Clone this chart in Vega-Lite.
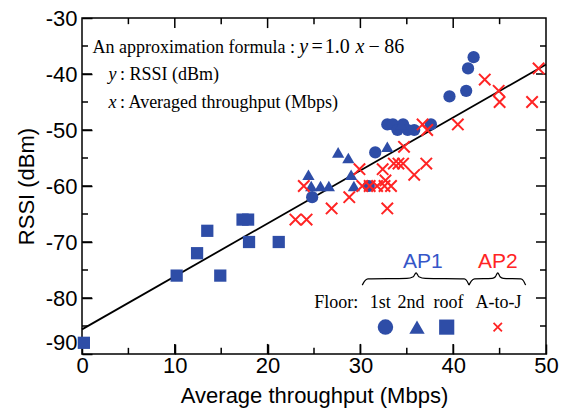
{
  "$schema": "https://vega.github.io/schema/vega-lite/v6.json",
  "width": 464,
  "height": 336,
  "autosize": {"type": "none"},
  "padding": {"left": 82, "top": 18, "right": 20, "bottom": 60},
  "background": "white",
  "config": {
    "view": {"stroke": "black", "strokeWidth": 1.5}
  },
  "datasets": {
    "points": [
      {"x": 0.2, "y": -88, "floor": "roof"},
      {"x": 10.2, "y": -76, "floor": "roof"},
      {"x": 12.4, "y": -72, "floor": "roof"},
      {"x": 13.5, "y": -68, "floor": "roof"},
      {"x": 14.9, "y": -76, "floor": "roof"},
      {"x": 17.3, "y": -66, "floor": "roof"},
      {"x": 17.9, "y": -66, "floor": "roof"},
      {"x": 18.0, "y": -70, "floor": "roof"},
      {"x": 21.2, "y": -70, "floor": "roof"},
      {"x": 24.8, "y": -62, "floor": "1st"},
      {"x": 30.9, "y": -60, "floor": "1st"},
      {"x": 31.6, "y": -54, "floor": "1st"},
      {"x": 32.9, "y": -49, "floor": "1st"},
      {"x": 33.5, "y": -49, "floor": "1st"},
      {"x": 34.0, "y": -50, "floor": "1st"},
      {"x": 34.6, "y": -49, "floor": "1st"},
      {"x": 35.1, "y": -50, "floor": "1st"},
      {"x": 35.8, "y": -50, "floor": "1st"},
      {"x": 37.6, "y": -49, "floor": "1st"},
      {"x": 39.6, "y": -44, "floor": "1st"},
      {"x": 41.4, "y": -43, "floor": "1st"},
      {"x": 41.6, "y": -39, "floor": "1st"},
      {"x": 42.2, "y": -37, "floor": "1st"},
      {"x": 24.4, "y": -58, "floor": "2nd"},
      {"x": 24.7, "y": -60, "floor": "2nd"},
      {"x": 25.7, "y": -60, "floor": "2nd"},
      {"x": 26.6, "y": -60, "floor": "2nd"},
      {"x": 27.6, "y": -54, "floor": "2nd"},
      {"x": 28.7, "y": -55, "floor": "2nd"},
      {"x": 29.0, "y": -58, "floor": "2nd"},
      {"x": 29.3, "y": -60, "floor": "2nd"},
      {"x": 32.9, "y": -53, "floor": "2nd"},
      {"x": 34.4, "y": -49, "floor": "2nd"},
      {"x": 23.0, "y": -66, "floor": "A-to-J"},
      {"x": 24.2, "y": -66, "floor": "A-to-J"},
      {"x": 23.9, "y": -60, "floor": "A-to-J"},
      {"x": 26.9, "y": -64, "floor": "A-to-J"},
      {"x": 28.8, "y": -62, "floor": "A-to-J"},
      {"x": 29.9, "y": -57, "floor": "A-to-J"},
      {"x": 30.2, "y": -60, "floor": "A-to-J"},
      {"x": 31.0, "y": -60, "floor": "A-to-J"},
      {"x": 31.8, "y": -60, "floor": "A-to-J"},
      {"x": 32.6, "y": -60, "floor": "A-to-J"},
      {"x": 33.3, "y": -60, "floor": "A-to-J"},
      {"x": 32.4, "y": -57, "floor": "A-to-J"},
      {"x": 32.7, "y": -59, "floor": "A-to-J"},
      {"x": 32.9, "y": -64, "floor": "A-to-J"},
      {"x": 33.6, "y": -56, "floor": "A-to-J"},
      {"x": 34.1, "y": -56, "floor": "A-to-J"},
      {"x": 34.6, "y": -56, "floor": "A-to-J"},
      {"x": 34.7, "y": -53, "floor": "A-to-J"},
      {"x": 35.8, "y": -58, "floor": "A-to-J"},
      {"x": 37.1, "y": -56, "floor": "A-to-J"},
      {"x": 36.7, "y": -49, "floor": "A-to-J"},
      {"x": 37.2, "y": -50, "floor": "A-to-J"},
      {"x": 40.5, "y": -49, "floor": "A-to-J"},
      {"x": 43.4, "y": -41, "floor": "A-to-J"},
      {"x": 44.9, "y": -43, "floor": "A-to-J"},
      {"x": 45.0, "y": -45, "floor": "A-to-J"},
      {"x": 48.5, "y": -45, "floor": "A-to-J"},
      {"x": 49.2, "y": -39, "floor": "A-to-J"}
    ],
    "fit": [
      {"x": 0, "y": -85.6},
      {"x": 50, "y": -38.3}
    ],
    "xticks": [
      {"v": 5, "kind": "minor"}, {"v": 10, "kind": "major"}, {"v": 15, "kind": "minor"}, {"v": 20, "kind": "major"},
      {"v": 25, "kind": "minor"}, {"v": 30, "kind": "major"}, {"v": 35, "kind": "minor"}, {"v": 40, "kind": "major"}, {"v": 45, "kind": "minor"}
    ],
    "yticks": [
      {"v": -85, "kind": "minor"}, {"v": -80, "kind": "major"}, {"v": -75, "kind": "minor"}, {"v": -70, "kind": "major"},
      {"v": -65, "kind": "minor"}, {"v": -60, "kind": "major"}, {"v": -55, "kind": "minor"}, {"v": -50, "kind": "major"},
      {"v": -45, "kind": "minor"}, {"v": -40, "kind": "major"}, {"v": -35, "kind": "minor"}
    ],
    "legendSymbols": [
      {"x": 32.7, "y": -85.2, "floor": "1st"},
      {"x": 36.1, "y": -85.2, "floor": "2nd"},
      {"x": 39.3, "y": -85.2, "floor": "roof"},
      {"x": 44.8, "y": -85.2, "floor": "A-to-J"}
    ],
    "braces": [
      {"x": 30.2, "y": -77.7, "part": "AP1"},
      {"x": 30.45, "y": -77.0, "part": "AP1"},
      {"x": 30.8, "y": -76.6, "part": "AP1"},
      {"x": 35.0, "y": -76.5, "part": "AP1"},
      {"x": 35.7, "y": -76.2, "part": "AP1"},
      {"x": 36.0, "y": -75.5, "part": "AP1"},
      {"x": 36.3, "y": -76.2, "part": "AP1"},
      {"x": 37.0, "y": -76.5, "part": "AP1"},
      {"x": 41.2, "y": -76.6, "part": "AP1"},
      {"x": 41.5, "y": -77.0, "part": "AP1"},
      {"x": 41.7, "y": -77.7, "part": "AP1"},
      {"x": 41.7, "y": -77.7, "part": "AP2"},
      {"x": 41.95, "y": -77.0, "part": "AP2"},
      {"x": 42.3, "y": -76.6, "part": "AP2"},
      {"x": 44.2, "y": -76.5, "part": "AP2"},
      {"x": 44.55, "y": -76.2, "part": "AP2"},
      {"x": 44.8, "y": -75.5, "part": "AP2"},
      {"x": 45.05, "y": -76.2, "part": "AP2"},
      {"x": 45.4, "y": -76.5, "part": "AP2"},
      {"x": 47.3, "y": -76.6, "part": "AP2"},
      {"x": 47.6, "y": -77.0, "part": "AP2"},
      {"x": 47.8, "y": -77.7, "part": "AP2"}
    ],
    "notes": [
      {"x": 1.13, "y": -36.25, "text": "An approximation formula :", "role": "plain"},
      {"x": 4.09, "y": -41.16, "text": ": RSSI (dBm)", "role": "plain"},
      {"x": 4.09, "y": -46.07, "text": ": Averaged throughput (Mbps)", "role": "plain"},
      {"x": 2.85, "y": -41.16, "text": "y", "role": "var"},
      {"x": 2.85, "y": -46.07, "text": "x", "role": "var"},
      {"x": 23.9, "y": -36.25, "text": "y", "role": "formula-var"},
      {"x": 29.96, "y": -36.25, "text": "x", "role": "formula-var"},
      {"x": 25.35, "y": -36.25, "text": "=", "role": "formula"},
      {"x": 27.5, "y": -36.25, "text": "1.0", "role": "formula"},
      {"x": 31.49, "y": -36.25, "text": "−", "role": "formula"},
      {"x": 33.64, "y": -36.25, "text": "86", "role": "formula"},
      {"x": 27.4, "y": -81.84, "text": "Floor:", "role": "floor"},
      {"x": 32.15, "y": -81.84, "text": "1st", "role": "floor"},
      {"x": 35.44, "y": -81.84, "text": "2nd", "role": "floor"},
      {"x": 39.5, "y": -81.84, "text": "roof", "role": "floor"},
      {"x": 44.87, "y": -81.84, "text": "A-to-J", "role": "floor"},
      {"x": 36.72, "y": -74.7, "text": "AP1", "role": "ap"},
      {"x": 44.8, "y": -74.7, "text": "AP2", "role": "ap"}
    ]
  },
  "resolve": {"axis": {"x": "independent", "y": "independent"}},
  "layer": [
    {
      "data": {"name": "xticks"},
      "transform": [{"filter": "datum.kind === 'major'"}],
      "mark": {"type": "rule", "color": "black", "strokeWidth": 1.5},
      "encoding": {
        "x": {"field": "v", "type": "quantitative", "scale": {"domain": [0, 50], "nice": false, "zero": false}, "axis": null},
        "y": {"datum": -90, "type": "quantitative", "scale": {"domain": [-90, -30], "nice": false, "zero": false}, "axis": null},
        "y2": {"datum": -88.2}
      }
    },
    {
      "data": {"name": "xticks"},
      "transform": [{"filter": "datum.kind === 'minor'"}],
      "mark": {"type": "rule", "color": "black", "strokeWidth": 1.5},
      "encoding": {
        "x": {"field": "v", "type": "quantitative", "scale": {"domain": [0, 50], "nice": false, "zero": false}, "axis": null},
        "y": {"datum": -90, "type": "quantitative", "scale": {"domain": [-90, -30], "nice": false, "zero": false}, "axis": null},
        "y2": {"datum": -88.9}
      }
    },
    {
      "data": {"name": "xticks"},
      "transform": [{"filter": "datum.kind === 'major'"}],
      "mark": {"type": "rule", "color": "black", "strokeWidth": 1.5},
      "encoding": {
        "x": {"field": "v", "type": "quantitative", "scale": {"domain": [0, 50], "nice": false, "zero": false}, "axis": null},
        "y": {"datum": -30, "type": "quantitative", "scale": {"domain": [-90, -30], "nice": false, "zero": false}, "axis": null},
        "y2": {"datum": -31.8}
      }
    },
    {
      "data": {"name": "xticks"},
      "transform": [{"filter": "datum.kind === 'minor'"}],
      "mark": {"type": "rule", "color": "black", "strokeWidth": 1.5},
      "encoding": {
        "x": {"field": "v", "type": "quantitative", "scale": {"domain": [0, 50], "nice": false, "zero": false}, "axis": null},
        "y": {"datum": -30, "type": "quantitative", "scale": {"domain": [-90, -30], "nice": false, "zero": false}, "axis": null},
        "y2": {"datum": -31.1}
      }
    },
    {
      "data": {"name": "yticks"},
      "transform": [{"filter": "datum.kind === 'major'"}],
      "mark": {"type": "rule", "color": "black", "strokeWidth": 1.5},
      "encoding": {
        "y": {"field": "v", "type": "quantitative", "scale": {"domain": [-90, -30], "nice": false, "zero": false}, "axis": null},
        "x": {"datum": 0, "type": "quantitative", "scale": {"domain": [0, 50], "nice": false, "zero": false}, "axis": null},
        "x2": {"datum": 1.08}
      }
    },
    {
      "data": {"name": "yticks"},
      "transform": [{"filter": "datum.kind === 'minor'"}],
      "mark": {"type": "rule", "color": "black", "strokeWidth": 1.5},
      "encoding": {
        "y": {"field": "v", "type": "quantitative", "scale": {"domain": [-90, -30], "nice": false, "zero": false}, "axis": null},
        "x": {"datum": 0, "type": "quantitative", "scale": {"domain": [0, 50], "nice": false, "zero": false}, "axis": null},
        "x2": {"datum": 0.65}
      }
    },
    {
      "data": {"name": "yticks"},
      "transform": [{"filter": "datum.kind === 'major'"}],
      "mark": {"type": "rule", "color": "black", "strokeWidth": 1.5},
      "encoding": {
        "y": {"field": "v", "type": "quantitative", "scale": {"domain": [-90, -30], "nice": false, "zero": false}, "axis": null},
        "x": {"datum": 50, "type": "quantitative", "scale": {"domain": [0, 50], "nice": false, "zero": false}, "axis": null},
        "x2": {"datum": 48.92}
      }
    },
    {
      "data": {"name": "yticks"},
      "transform": [{"filter": "datum.kind === 'minor'"}],
      "mark": {"type": "rule", "color": "black", "strokeWidth": 1.5},
      "encoding": {
        "y": {"field": "v", "type": "quantitative", "scale": {"domain": [-90, -30], "nice": false, "zero": false}, "axis": null},
        "x": {"datum": 50, "type": "quantitative", "scale": {"domain": [0, 50], "nice": false, "zero": false}, "axis": null},
        "x2": {"datum": 49.35}
      }
    },
    {
      "data": {"name": "fit"},
      "mark": {"type": "line", "color": "black", "strokeWidth": 1.8},
      "encoding": {
        "x": {"field": "x", "type": "quantitative", "scale": {"domain": [0, 50], "nice": false, "zero": false}, "axis": null},
        "y": {"field": "y", "type": "quantitative", "scale": {"domain": [-90, -30], "nice": false, "zero": false}, "axis": null}
      }
    },
    {
      "data": {"name": "points"},
      "transform": [{"filter": "datum.floor !== 'A-to-J'"}],
      "mark": {"type": "point", "filled": true, "opacity": 1, "color": "#2E4DA7", "size": 150},
      "encoding": {
        "x": {"field": "x", "type": "quantitative", "scale": {"domain": [0, 50], "nice": false, "zero": false},
              "axis": {"orient": "bottom", "values": [0, 10, 20, 30, 40, 50], "title": "Average throughput (Mbps)", "grid": false, "domain": false,
                       "tickSize": -10, "tickWidth": 1.5, "tickColor": "black", "labelFlush": false,
                       "labelFont": "Liberation Sans", "labelFontSize": 22, "labelColor": "black", "labelPadding": 11,
                       "titleFont": "Liberation Sans", "titleFontSize": 22, "titleFontWeight": "normal", "titleColor": "black", "titlePadding": 9}},
        "y": {"field": "y", "type": "quantitative", "scale": {"domain": [-90, -30], "nice": false, "zero": false},
              "axis": {"orient": "left", "values": [-90, -80, -70, -60, -50, -40, -30], "title": "RSSI (dBm)", "grid": false, "domain": false,
                       "tickSize": -10, "tickWidth": 1.5, "tickColor": "black", "labelFlush": false,
                       "labelExpr": "'' + datum.value",
                       "labelBaseline": {"condition": {"test": "datum.value === -90", "value": "bottom"}, "value": "middle"},
                       "labelFont": "Liberation Sans", "labelFontSize": 22, "labelColor": "black", "labelPadding": 15,
                       "titleFont": "Liberation Sans", "titleFontSize": 22, "titleFontWeight": "normal", "titleColor": "black", "titlePadding": 7}},
        "shape": {"field": "floor", "type": "nominal", "scale": {"domain": ["1st", "2nd", "roof"], "range": ["circle", "triangle-up", "square"]}, "legend": null}
      }
    },
    {
      "data": {"name": "points"},
      "transform": [{"filter": "datum.floor === 'A-to-J'"}],
      "mark": {"type": "point", "shape": "M-1,-1L1,1M-1,1L1,-1", "filled": false, "opacity": 1, "stroke": "#FF2424", "strokeWidth": 2, "size": 130},
      "encoding": {
        "x": {"field": "x", "type": "quantitative", "scale": {"domain": [0, 50], "nice": false, "zero": false}, "axis": null},
        "y": {"field": "y", "type": "quantitative", "scale": {"domain": [-90, -30], "nice": false, "zero": false}, "axis": null}
      }
    },
    {
      "data": {"name": "legendSymbols"},
      "transform": [{"filter": "datum.floor !== 'A-to-J'"}],
      "mark": {"type": "point", "filled": true, "opacity": 1, "color": "#2E4DA7"},
      "encoding": {
        "x": {"field": "x", "type": "quantitative", "scale": {"domain": [0, 50], "nice": false, "zero": false}, "axis": null},
        "y": {"field": "y", "type": "quantitative", "scale": {"domain": [-90, -30], "nice": false, "zero": false}, "axis": null},
        "shape": {"field": "floor", "type": "nominal", "scale": {"domain": ["1st", "2nd", "roof"], "range": ["circle", "triangle-up", "square"]}, "legend": null},
        "size": {"field": "floor", "type": "nominal", "scale": {"domain": ["1st", "2nd", "roof"], "range": [240, 230, 180]}, "legend": null}
      }
    },
    {
      "data": {"name": "legendSymbols"},
      "transform": [{"filter": "datum.floor === 'A-to-J'"}],
      "mark": {"type": "point", "shape": "M-1,-1L1,1M-1,1L1,-1", "filled": false, "opacity": 1, "stroke": "#FF2424", "strokeWidth": 1.8, "size": 70},
      "encoding": {
        "x": {"field": "x", "type": "quantitative", "scale": {"domain": [0, 50], "nice": false, "zero": false}, "axis": null},
        "y": {"field": "y", "type": "quantitative", "scale": {"domain": [-90, -30], "nice": false, "zero": false}, "axis": null}
      }
    },
    {
      "data": {"name": "braces"},
      "mark": {"type": "line", "color": "black", "strokeWidth": 1.2, "interpolate": "monotone"},
      "encoding": {
        "x": {"field": "x", "type": "quantitative", "scale": {"domain": [0, 50], "nice": false, "zero": false}, "axis": null},
        "y": {"field": "y", "type": "quantitative", "scale": {"domain": [-90, -30], "nice": false, "zero": false}, "axis": null},
        "detail": {"field": "part", "type": "nominal"}
      }
    },
    {
      "data": {"name": "notes"},
      "transform": [{"filter": "datum.role === 'plain'"}],
      "mark": {"type": "text", "align": "left", "baseline": "alphabetic", "font": "Liberation Serif", "fontSize": 18, "color": "black"},
      "encoding": {
        "x": {"field": "x", "type": "quantitative", "scale": {"domain": [0, 50], "nice": false, "zero": false}, "axis": null},
        "y": {"field": "y", "type": "quantitative", "scale": {"domain": [-90, -30], "nice": false, "zero": false}, "axis": null},
        "text": {"field": "text"}
      }
    },
    {
      "data": {"name": "notes"},
      "transform": [{"filter": "datum.role === 'var'"}],
      "mark": {"type": "text", "align": "left", "baseline": "alphabetic", "font": "Liberation Serif", "fontStyle": "italic", "fontSize": 18, "color": "black"},
      "encoding": {
        "x": {"field": "x", "type": "quantitative", "scale": {"domain": [0, 50], "nice": false, "zero": false}, "axis": null},
        "y": {"field": "y", "type": "quantitative", "scale": {"domain": [-90, -30], "nice": false, "zero": false}, "axis": null},
        "text": {"field": "text"}
      }
    },
    {
      "data": {"name": "notes"},
      "transform": [{"filter": "datum.role === 'formula-var'"}],
      "mark": {"type": "text", "align": "center", "baseline": "alphabetic", "font": "Liberation Serif", "fontStyle": "italic", "fontSize": 20, "color": "black"},
      "encoding": {
        "x": {"field": "x", "type": "quantitative", "scale": {"domain": [0, 50], "nice": false, "zero": false}, "axis": null},
        "y": {"field": "y", "type": "quantitative", "scale": {"domain": [-90, -30], "nice": false, "zero": false}, "axis": null},
        "text": {"field": "text"}
      }
    },
    {
      "data": {"name": "notes"},
      "transform": [{"filter": "datum.role === 'formula'"}],
      "mark": {"type": "text", "align": "center", "baseline": "alphabetic", "font": "Liberation Serif", "fontSize": 20, "color": "black"},
      "encoding": {
        "x": {"field": "x", "type": "quantitative", "scale": {"domain": [0, 50], "nice": false, "zero": false}, "axis": null},
        "y": {"field": "y", "type": "quantitative", "scale": {"domain": [-90, -30], "nice": false, "zero": false}, "axis": null},
        "text": {"field": "text"}
      }
    },
    {
      "data": {"name": "notes"},
      "transform": [{"filter": "datum.role === 'floor'"}],
      "mark": {"type": "text", "align": "center", "baseline": "alphabetic", "font": "Liberation Serif", "fontSize": 18, "color": "black"},
      "encoding": {
        "x": {"field": "x", "type": "quantitative", "scale": {"domain": [0, 50], "nice": false, "zero": false}, "axis": null},
        "y": {"field": "y", "type": "quantitative", "scale": {"domain": [-90, -30], "nice": false, "zero": false}, "axis": null},
        "text": {"field": "text"}
      }
    },
    {
      "data": {"name": "notes"},
      "transform": [{"filter": "datum.role === 'ap'"}],
      "mark": {"type": "text", "align": "center", "baseline": "alphabetic", "font": "Liberation Sans", "fontSize": 21},
      "encoding": {
        "x": {"field": "x", "type": "quantitative", "scale": {"domain": [0, 50], "nice": false, "zero": false}, "axis": null},
        "y": {"field": "y", "type": "quantitative", "scale": {"domain": [-90, -30], "nice": false, "zero": false}, "axis": null},
        "text": {"field": "text"},
        "color": {"field": "text", "type": "nominal", "scale": {"domain": ["AP1", "AP2"], "range": ["#3556C8", "#FF2424"]}, "legend": null}
      }
    }
  ]
}
